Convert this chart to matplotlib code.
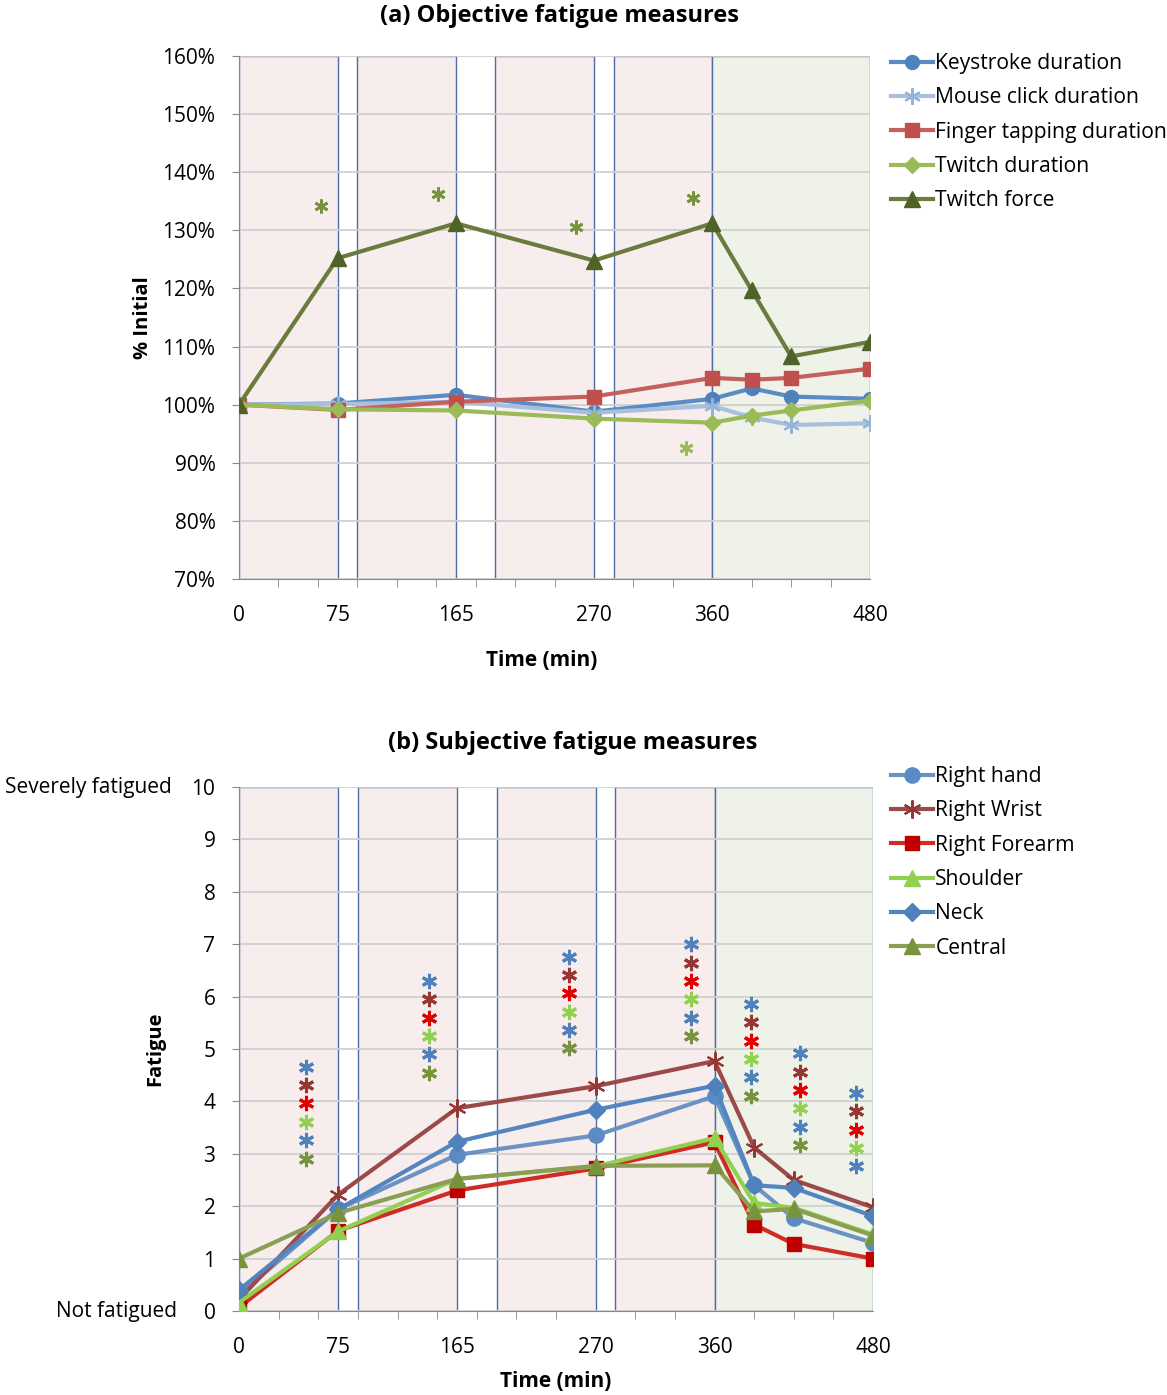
import matplotlib.pyplot as plt

plt.rcParams['font.family'] = ['Open Sans', 'DejaVu Sans']

# sampling times (min)
t = [0, 75, 165, 270, 360, 390, 420, 480]
tick_pos = [0, 75, 165, 270, 360, 480]

# work blocks and the recovery period
work = [(0, 75), (90, 165), (195, 270), (285, 360)]
recovery = (360, 480)

# (a) objective measures, % of initial value
keystroke = [100, 100.2, 101.7, 98.8, 101.0, 102.8, 101.4, 101.0]
mouse_click = [100, 100.1, 100.5, 98.6, 99.8, 97.8, 96.5, 96.8]
finger_tap = [100, 99.1, 100.5, 101.4, 104.6, 104.3, 104.6, 106.2]
twitch_dur = [100, 99.2, 99.0, 97.6, 96.9, 98.1, 99.0, 100.7]
twitch_force = [100, 125.2, 131.2, 124.8, 131.2, 119.7, 108.3, 110.8]

# (b) subjective ratings, 0-10
right_hand = [0.3, 1.94, 2.98, 3.35, 4.1, 2.4, 1.77, 1.3]
right_wrist = [0.22, 2.22, 3.87, 4.29, 4.77, 3.12, 2.5, 1.98]
right_forearm = [0.07, 1.53, 2.3, 2.72, 3.22, 1.65, 1.28, 1.0]
shoulder = [0.16, 1.52, 2.52, 2.76, 3.3, 2.06, 1.97, 1.46]
neck = [0.4, 1.94, 3.23, 3.84, 4.3, 2.4, 2.35, 1.81]
central = [1.0, 1.87, 2.52, 2.77, 2.78, 1.9, 1.95, 1.44]

# significance stars, panel (a): time, level, colour
sig_a_t = [62, 151, 256, 345, 340]
sig_a_y = [134.2, 136.3, 130.5, 135.5, 92.5]
sig_a_c = ['#77933c', '#77933c', '#77933c', '#77933c', '#9bbb59']

# significance stars, panel (b): one column per time, stacked top-down
sig_b_t = [51, 144, 250, 342, 388, 425, 467]
sig_b_top = [4.66, 6.3, 6.76, 7.0, 5.86, 4.92, 4.16]
sig_b_n = [6, 6, 6, 6, 6, 6, 5]
star_cols = ['#4f81bd', '#953735', '#e00000', '#92d050', '#4f81bd', '#77933c']

star = (6, 2, 0)
FS = 15


def setup(ax, xmax):
    for a, b in work:
        ax.axvspan(a, b, facecolor='#f7eded', edgecolor='#4a6fa5', lw=1, zorder=0.1)
    ax.axvspan(recovery[0], recovery[1], facecolor='#eef2e8', edgecolor='#4a6fa5',
               lw=1, zorder=0.1)
    ax.set_xlim(0, xmax)
    ax.set_xticks(tick_pos)
    ax.set_xticklabels([str(v) for v in tick_pos])
    ax.set_xticks(list(range(0, 481, 30)), minor=True)
    ax.tick_params(axis='x', which='major', length=0, pad=18.5, labelsize=FS)
    ax.tick_params(axis='x', which='minor', length=6, color='#888888')
    ax.tick_params(axis='y', length=5, color='#888888', labelsize=FS, pad=12)
    ax.set_axisbelow(True)
    ax.grid(axis='y', color='#d0d0d0', lw=1.3)
    for s in ['top', 'right']:
        ax.spines[s].set_visible(False)
    for s in ['left', 'bottom']:
        ax.spines[s].set_color('#888888')


def add_legend(ax, top_px):
    ax.legend(loc='upper left', bbox_to_anchor=(891 / 1167, 1 - top_px / 1395),
              bbox_transform=fig.transFigure, frameon=False, fontsize=15.2,
              handlelength=2.0, handletextpad=0.1, labelspacing=0.63,
              borderpad=0, borderaxespad=0)


fig = plt.figure(figsize=(11.67, 13.95), dpi=100)

# ---- (a) objective
ax1 = fig.add_axes([239 / 1167, 1 - 579 / 1395, 631 / 1167, 523 / 1395])
setup(ax1, 480)
ax1.set_ylim(70, 160)
ax1.set_yticks(range(70, 161, 10))
ax1.set_yticklabels([f'{v}%' for v in range(70, 161, 10)])

ax1.plot(t, keystroke, color='#5b8bc4', lw=3, marker='o', ms=10,
         mfc='#4f81bd', mec='#4f81bd', label='Keystroke duration', zorder=3)
ax1.plot(t, mouse_click, color='#a7c0de', lw=3, marker=star, ms=12,
         mec='#95b3d7', mew=1.5, label='Mouse click duration', zorder=3)
ax1.plot(t, finger_tap, color='#c4605d', lw=3, marker='s', ms=10,
         mfc='#c0504d', mec='#c0504d', label='Finger tapping duration', zorder=3)
ax1.plot(t, twitch_dur, color='#9bbb59', lw=3, marker='D', ms=8,
         mfc='#9bbb59', mec='#9bbb59', label='Twitch duration', zorder=3)
ax1.plot(t, twitch_force, color='#6a7b3c', lw=3, marker='^', ms=11,
         mfc='#4f6228', mec='#4f6228', label='Twitch force', zorder=3)

for x, y, c in zip(sig_a_t, sig_a_y, sig_a_c):
    ax1.plot(x, y, marker=star, ms=10, mew=2, color=c, ls='none', zorder=4)

ax1.set_xlabel('Time (min)', fontsize=FS, fontweight='bold')
ax1.xaxis.set_label_coords(0.479, -0.136)
ax1.set_ylabel('% Initial', fontsize=14.5, fontweight='bold')
ax1.yaxis.set_label_coords(-0.136, 0.5)
fig.text(560 / 1167, 1 - 16 / 1395, '(a) Objective fatigue measures',
         ha='center', va='center', fontsize=17, fontweight='bold')
add_legend(ax1, 53)

# ---- (b) subjective
ax2 = fig.add_axes([239 / 1167, 1 - 1311 / 1395, 634 / 1167, 524 / 1395])
setup(ax2, 480)
ax2.set_ylim(0, 10)
ax2.set_yticks(range(0, 11))

ax2.plot(t, right_hand, color='#6a93c3', lw=3, marker='o', ms=11,
         mfc='#5b8bc4', mec='#5b8bc4', label='Right hand', zorder=3)
ax2.plot(t, right_wrist, color='#9a4a48', lw=3, marker=star, ms=13,
         mec='#953735', mew=1.5, label='Right Wrist', zorder=3)
ax2.plot(t, right_forearm, color='#d02c26', lw=3, marker='s', ms=10,
         mfc='#c00000', mec='#c00000', label='Right Forearm', zorder=3)
ax2.plot(t, shoulder, color='#92d050', lw=3, marker='^', ms=11,
         mfc='#92d050', mec='#92d050', label='Shoulder', zorder=3)
ax2.plot(t, neck, color='#5485c0', lw=3, marker='D', ms=9,
         mfc='#4f81bd', mec='#4f81bd', label='Neck', zorder=3)
ax2.plot(t, central, color='#8a9f55', lw=3, marker='^', ms=11,
         mfc='#77933c', mec='#77933c', label='Central', zorder=3)

for x, top, n in zip(sig_b_t, sig_b_top, sig_b_n):
    for i in range(n):
        ax2.plot(x, top - 0.35 * i, marker=star, ms=11, mew=2.2,
                 color=star_cols[i], ls='none', zorder=4)

ax2.text(-0.106, 1.0, 'Severely fatigued', transform=ax2.transAxes,
         ha='right', va='center', fontsize=FS)
ax2.text(-0.098, 0.0, 'Not fatigued', transform=ax2.transAxes,
         ha='right', va='center', fontsize=FS)

ax2.set_xlabel('Time (min)', fontsize=FS, fontweight='bold')
ax2.xaxis.set_label_coords(0.5, -0.115)
ax2.set_ylabel('Fatigue', fontsize=14.5, fontweight='bold')
ax2.yaxis.set_label_coords(-0.117, 0.5)
fig.text(573 / 1167, 1 - 743 / 1395, '(b) Subjective fatigue measures',
         ha='center', va='center', fontsize=17, fontweight='bold')
add_legend(ax2, 766)

fig.savefig('out.png', dpi=100)
